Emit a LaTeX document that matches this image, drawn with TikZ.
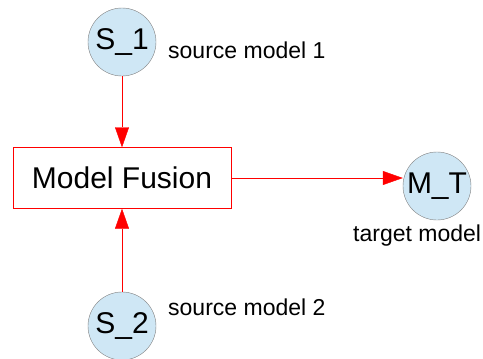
\documentclass[tikz,border=0pt]{standalone}
\usepackage{fontspec}
\setmainfont{Liberation Sans}
\usetikzlibrary{arrows.meta}
\definecolor{modelblue}{RGB}{207,231,245}
\definecolor{rimgray}{RGB}{128,128,128}
\begin{document}
\begin{tikzpicture}[x=1pt, y=-1pt,
  model/.style={circle, draw=rimgray, fill=modelblue, minimum size=68pt, inner sep=0pt,
                font=\fontsize{30}{36}\selectfont},
  fusebox/.style={draw=red, minimum width=218pt, minimum height=61pt, inner sep=0pt,
                  font=\fontsize{30}{36}\selectfont},
  lab/.style={font=\fontsize{23}{28}\selectfont, inner sep=0pt},
  arr/.style={-{Triangle[length=20pt,width=14pt]}, red}]
\useasboundingbox (0,0) rectangle (483,359);
% models
\node[model] (s1) at (122,42)  {S\_1};
\node[model] (s2) at (122,326) {S\_2};
\node[model] (mt) at (437,186) {M\_T};
\node[fusebox] (fuse) at (122,178) {Model Fusion};
% labels
\node[lab, anchor=base west] (l1) at (168,58)  {source model 1};
\node[lab, anchor=base west] (l2) at (168,315) {source model 2};
\node[lab, anchor=base west] (lt) at (353,241) {target model};
% connectors
\draw[arr] (s1) -- (fuse);
\draw[arr] (s2) -- (fuse);
\draw[arr] (fuse.east) -- (fuse.east -| mt.west);
\end{tikzpicture}
\end{document}
